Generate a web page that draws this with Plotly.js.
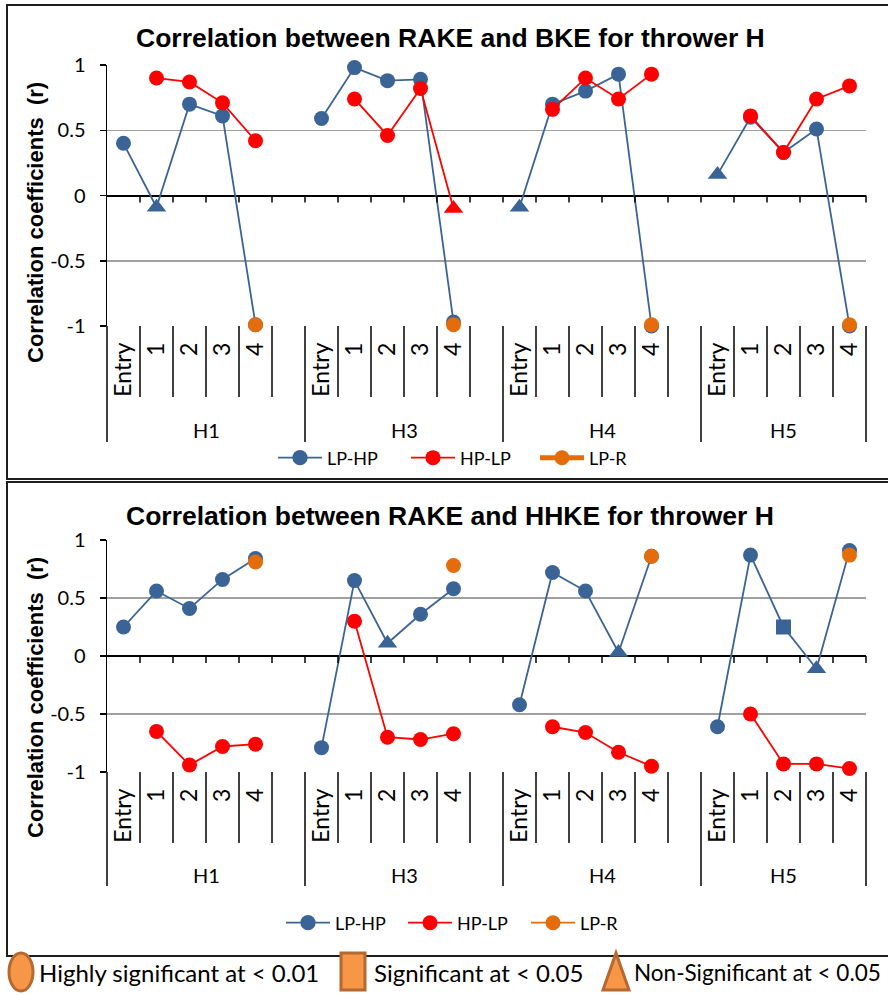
<!DOCTYPE html>
<html>
<head>
<meta charset="utf-8">
<script src="https://cdn.plot.ly/plotly-3.0.1.min.js"></script>
<style>
html,body{margin:0;padding:0;background:#fff;overflow:hidden;}
#chart{width:888px;height:995px;}
</style>
</head>
<body>
<div id="chart"></div>
<script>
// ---------------- DATA ----------------
const groups = ['H1', 'H3', 'H4', 'H5'];
const stages = ['Entry', '1', '2', '3', '4'];
const yTickVals = [-1, -0.5, 0, 0.5, 1];
const yTickText = ['-1', '-0.5', '0', '0.5', '1'];
const seriesNames = ['LP-HP', 'HP-LP', 'LP-R'];

// Chart 1: RAKE vs BKE (values per group: Entry,1,2,3,4)
const bkeLPHP    = [0.40, -0.09, 0.70, 0.61, -0.99,   0.59, 0.98, 0.88, 0.89, -0.97,   -0.09, 0.70, 0.80, 0.93, -1.00,   0.16, 0.60, 0.33, 0.51, -1.00];
const bkeLPHPSig = ['h','n','h','h','h',  'h','h','h','h','h',  'n','h','h','h','h',  'n','h','h','h','h'];
const bkeHPLP    = [null, 0.90, 0.87, 0.71, 0.42,   null, 0.74, 0.46, 0.82, -0.10,   null, 0.66, 0.90, 0.74, 0.93,   null, 0.61, 0.33, 0.74, 0.84];
const bkeHPLPSig = ['h','h','h','h','h',  'h','h','h','h','n',  'h','h','h','h','h',  'h','h','h','h','h'];
const bkeLPR     = [-0.99, -0.99, -0.99, -0.99];   // stage 4 of each group

// Chart 2: RAKE vs HHKE
const hhLPHP    = [0.25, 0.56, 0.41, 0.66, 0.84,   -0.79, 0.65, 0.11, 0.36, 0.58,   -0.42, 0.72, 0.56, 0.03, 0.86,   -0.61, 0.87, 0.25, -0.11, 0.91];
const hhLPHPSig = ['h','h','h','h','h',  'h','h','n','h','h',  'h','h','h','n','h',  'h','h','s','n','h'];
const hhHPLP    = [null, -0.65, -0.94, -0.78, -0.76,   null, 0.30, -0.70, -0.72, -0.67,   null, -0.61, -0.66, -0.83, -0.95,   null, -0.50, -0.93, -0.93, -0.97];
const hhHPLPSig = ['h','h','h','h','h',  'h','h','h','h','h',  'h','h','h','h','h',  'h','h','h','h','h'];
const hhLPR     = [0.81, 0.78, 0.86, 0.87];

const titles = ['Correlation between RAKE and BKE for thrower H',
                'Correlation between RAKE and HHKE for thrower H'];
const yTitle = 'Correlation coefficients  (r)';
const sigLabels = ['Highly significant at &lt; 0.01', 'Significant at &lt; 0.05', 'Non-Significant at &lt; 0.05'];

// ---------------- STYLE ----------------
const BLUE = '#3B6496', RED = '#FF0000', ORANGE = '#E46C0A';
const W = 888, H = 995;
const CAL = 'Lato, "Open Sans", sans-serif';
const ARIAL = '"Liberation Sans", Arial, sans-serif';
const symMap = {h: 'circle', s: 'square', n: 'triangle-up'};
const nSlots = groups.length * 6 - 1;  // 23 category slots incl. blank spacers

function fx(p) { return p / W; }
function fy(p) { return 1 - p / H; }

function build(vals, stageIdx, sig) {
  const x = [], y = [], sym = [], size = [];
  let k = 0;
  groups.forEach((g, gi) => {
    stageIdx.forEach(si => {
      x.push(gi * 6 + si);
      y.push(vals[k]);
      const s = sig ? symMap[sig[k]] : 'circle';
      sym.push(s);
      size.push(s === 'triangle-up' ? 17 : 15);
      k++;
    });
    if (gi < groups.length - 1) { x.push(gi * 6 + 5); y.push(null); sym.push('circle'); size.push(15); }
  });
  return {x, y, sym, size};
}

const allStages = [0, 1, 2, 3, 4];
function trace(vals, stageIdx, sig, name, color, lw, xa, ya, leg) {
  const d = build(vals, stageIdx, sig);
  return {
    type: 'scatter', mode: 'lines+markers', name: name,
    x: d.x, y: d.y, xaxis: xa, yaxis: ya, legend: leg,
    line: {color: color, width: lw},
    marker: {color: color, symbol: d.sym, size: d.size, opacity: 1, line: {width: 0}},
    cliponaxis: false, connectgaps: false, hoverinfo: 'skip'
  };
}

const data = [
  trace(bkeLPHP, allStages, bkeLPHPSig, seriesNames[0], BLUE, 1.8, 'x', 'y', 'legend'),
  trace(bkeHPLP, allStages, bkeHPLPSig, seriesNames[1], RED, 1.8, 'x', 'y', 'legend2'),
  trace(bkeLPR, [4], null, seriesNames[2], ORANGE, 5, 'x', 'y', 'legend3'),
  trace(hhLPHP, allStages, hhLPHPSig, seriesNames[0], BLUE, 1.8, 'x2', 'y2', 'legend4'),
  trace(hhHPLP, allStages, hhHPLPSig, seriesNames[1], RED, 1.8, 'x2', 'y2', 'legend5'),
  trace(hhLPR, [4], null, seriesNames[2], ORANGE, 1.8, 'x2', 'y2', 'legend6')
];

// tick positions / labels for category axis
const tickVals = [], tickText = [];
groups.forEach((g, gi) => stages.forEach((s, si) => { tickVals.push(gi * 6 + si); tickText.push(s); }));

// geometry of the two panels (pixels)
const panels = [
  {top: 65, bottom: 326, shortEnd: 397, longEnd: 442, groupY: 430, legY: 458, legX: [273, 406, 535], titleY: 38, yTitleY: 223, boxTop: 5, boxBot: 479},
  {top: 540, bottom: 772, shortEnd: 843, longEnd: 886, groupY: 875, legY: 923, legX: [281, 403, 526], titleY: 516, yTitleY: 698, boxTop: 482, boxBot: 956}
];
const plotL = 107, plotR = 866;

function xAxis(anchor) {
  return {
    domain: [fx(plotL), fx(plotR)], anchor: anchor, range: [-0.5, nSlots - 0.5],
    tickmode: 'array', tickvals: tickVals, ticktext: tickText, tickangle: -90,
    tickfont: {family: CAL, size: 23, color: '#000'}, ticks: '', ticklabelstandoff: 11,
    showgrid: false, zeroline: false, showline: false, fixedrange: true
  };
}
function yAxis(p, anchor) {
  return {
    domain: [fy(p.bottom), fy(p.top)], anchor: anchor, range: [-1, 1],
    tickmode: 'array', tickvals: yTickVals, ticktext: yTickText,
    tickfont: {family: CAL, size: 20, color: '#000'},
    showgrid: true, gridcolor: '#A0A0A0', gridwidth: 1.5,
    zeroline: true, zerolinecolor: '#000', zerolinewidth: 2,
    showline: true, linecolor: '#000', linewidth: 1.5,
    ticks: 'outside', ticklen: 6, tickwidth: 1.5, tickcolor: '#000', ticklabelstandoff: 10,
    fixedrange: true
  };
}

const shapes = [], annotations = [];
panels.forEach((p, pi) => {
  const xa = pi === 0 ? 'x' : 'x2', ya = pi === 0 ? 'y' : 'y2';
  // frame
  shapes.push({type: 'rect', xref: 'paper', yref: 'paper', x0: fx(7), x1: 1.05, y0: fy(p.boxBot), y1: fy(p.boxTop),
               line: {color: '#1E1E1E', width: 2}, fillcolor: 'rgba(0,0,0,0)'});
  // boundaries between categories
  for (let b = 0; b <= nSlots; b++) {
    const xd = b / nSlots;
    const isLong = (b === 0 || b === nSlots || b % 6 === 0);
    shapes.push({type: 'line', xref: xa + ' domain', yref: 'paper', x0: xd, x1: xd,
                 y0: fy(p.bottom), y1: fy(isLong ? p.longEnd : p.shortEnd), line: {color: '#000', width: 1.5}});
    // small tick marks on the zero line
    if (b > 0) shapes.push({type: 'line', xref: xa + ' domain', yref: ya, x0: xd, x1: xd, y0: 0, y1: -7 / ((p.bottom - p.top) / 2),
                 line: {color: '#000', width: 1.5}});
  }
  // group labels
  groups.forEach((g, gi) => {
    annotations.push({xref: xa, yref: 'paper', x: gi < groups.length - 1 ? gi * 6 + 2.5 : gi * 6 + 2, y: fy(p.groupY),
                      text: g, showarrow: false, font: {family: CAL, size: 20, color: '#000'}, yanchor: 'middle'});
  });
  // title
  annotations.push({xref: 'paper', yref: 'paper', x: fx(450), y: fy(p.titleY), text: titles[pi], showarrow: false,
                    font: {family: ARIAL, size: 26.5, color: '#000', weight: 'bold'}, xanchor: 'center', yanchor: 'middle'});
  // y title
  annotations.push({xref: 'paper', yref: 'paper', x: fx(35), y: fy(p.yTitleY), text: yTitle, showarrow: false, textangle: -90,
                    font: {family: ARIAL, size: 22, color: '#000', weight: 'bold'}, xanchor: 'center', yanchor: 'middle'});
});

// significance key at the bottom
const keyFill = '#F79646', keyLine = '#B5682F';
shapes.push({type: 'circle', xref: 'paper', yref: 'paper', x0: fx(9), x1: fx(33), y0: fy(991), y1: fy(953),
             fillcolor: keyFill, line: {color: keyLine, width: 3}});
shapes.push({type: 'rect', xref: 'paper', yref: 'paper', x0: fx(341), x1: fx(365), y0: fy(990), y1: fy(953),
             fillcolor: keyFill, line: {color: keyLine, width: 3}});
shapes.push({type: 'path', xref: 'paper', yref: 'paper',
             path: 'M' + fx(603) + ',' + fy(990) + ' L' + fx(616) + ',' + fy(953) + ' L' + fx(629) + ',' + fy(990) + ' Z',
             fillcolor: keyFill, line: {color: keyLine, width: 3}});
[[37, 0, 24], [372, 1, 24], [632, 2, 22.5]].forEach(([xp, i, fs]) => {
  annotations.push({xref: 'paper', yref: 'paper', x: fx(xp), y: fy(972), text: sigLabels[i], showarrow: false,
                    xanchor: 'left', yanchor: 'middle', font: {family: CAL, size: fs, color: '#000'}});
});

function legendCfg(p, i) {
  return {orientation: 'h', x: fx(p.legX[i]), y: fy(p.legY), xanchor: 'left', yanchor: 'middle',
          font: {family: CAL, size: 18, color: '#000'}, bgcolor: 'rgba(0,0,0,0)', borderwidth: 0,
          itemwidth: 44, traceorder: 'normal', itemclick: false, itemdoubleclick: false};
}

const layout = {
  width: W, height: H, margin: {l: 0, r: 0, t: 0, b: 0},
  paper_bgcolor: '#fff', plot_bgcolor: '#fff', showlegend: true,
  xaxis: xAxis('y'), xaxis2: xAxis('y2'),
  yaxis: yAxis(panels[0], 'x'), yaxis2: yAxis(panels[1], 'x2'),
  legend: legendCfg(panels[0], 0), legend2: legendCfg(panels[0], 1), legend3: legendCfg(panels[0], 2),
  legend4: legendCfg(panels[1], 0), legend5: legendCfg(panels[1], 1), legend6: legendCfg(panels[1], 2),
  shapes: shapes, annotations: annotations, hovermode: false
};

Plotly.newPlot('chart', data, layout, {displayModeBar: false, staticPlot: true});
</script>
</body>
</html>
